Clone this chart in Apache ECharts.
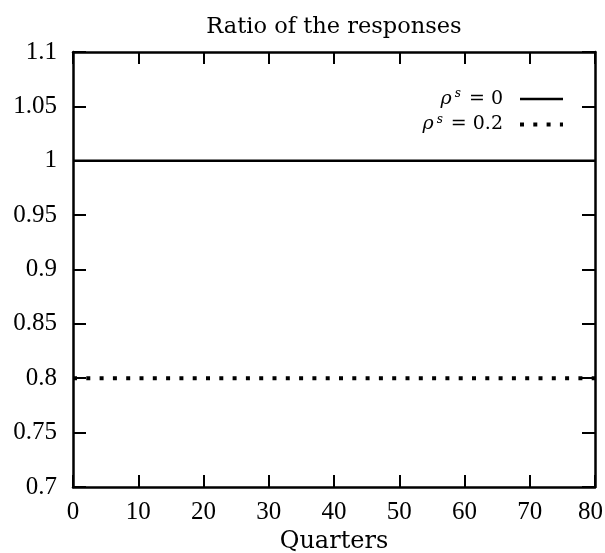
<!DOCTYPE html>
<html>
<head>
<meta charset="utf-8">
<script src="https://cdn.jsdelivr.net/npm/echarts@6/dist/echarts.min.js"></script>
<style>
  html, body { margin: 0; padding: 0; background: #fff; }
  #chart { width: 605px; height: 553px; }
</style>
</head>
<body>
<div id="chart"></div>
<script>
// values
const quarters = [0, 80]
const ratioRho0 = [1, 1]
const ratioRho02 = [0.8, 0.8]
const seriesNames = ['rho0', 'rho02']
const legendLabels = {
  rho0: '{g|ρ}{s|s} = 0',
  rho02: '{g|ρ}{s|s} = 0.2',
}

const textFont = 'DejaVu Serif'
const numFont = 'Liberation Serif'
const chart = echarts.init(document.getElementById('chart'))

const axisLine = { show: true, onZero: false, lineStyle: { color: '#000', width: 2.5 } }
const tick = (len) => ({ inside: true, length: len, lineStyle: { color: '#000', width: 2 } })
const dotted = { color: '#000', width: 4, type: [4, 9.3], cap: 'butt' }

const option = {
  animation: false,
  textStyle: { fontFamily: textFont, color: '#000' },
  legend: {
    orient: 'vertical',
    right: 35,
    top: 83,
    align: 'right',
    itemWidth: 43,
    itemHeight: 14,
    itemGap: 5,
    data: [
      { name: seriesNames[0], lineStyle: { color: '#000', width: 2.5, type: 'solid' } },
      { name: seriesNames[1], lineStyle: dotted },
    ],
    formatter: (name) => legendLabels[name],
    itemStyle: { opacity: 0 },
    textStyle: {
      fontFamily: textFont,
      fontSize: 19,
      color: '#000',
      padding: [0, 12, 0, 0],
      rich: {
        g: { fontFamily: textFont, fontStyle: 'italic', fontSize: 19, color: '#000' },
        s: { fontFamily: textFont, fontStyle: 'italic', fontSize: 12, color: '#000', padding: [0, 2, 10, 3] },
      },
    },
  },
  grid: { left: 73, right: 10, top: 52, bottom: 66, containLabel: false, outerBoundsMode: 'none' },
  xAxis: [
    {
      type: 'value',
      min: 0,
      max: 80,
      interval: 10,
      name: 'Quarters',
      nameLocation: 'middle',
      nameGap: 43,
      nameTextStyle: { fontFamily: textFont, fontSize: 24, color: '#000' },
      axisLine,
      axisTick: tick(12),
      axisLabel: {
        fontFamily: numFont,
        fontSize: 25,
        color: '#000',
        margin: 13,
        // keep the last label inside the frame
        formatter: (v) => (v === 80 ? '{r|' + v + '}' : String(v)),
        rich: { r: { fontFamily: numFont, fontSize: 25, color: '#000', padding: [0, 9, 0, 0] } },
      },
      splitLine: { show: false },
    },
    {
      // top border, also carries the title centred over the plot
      type: 'value',
      position: 'top',
      min: 0,
      max: 80,
      interval: 10,
      name: 'Ratio of the responses',
      nameLocation: 'middle',
      nameGap: 13,
      nameTextStyle: { fontFamily: textFont, fontSize: 22.5, color: '#000' },
      axisLine,
      axisTick: tick(12),
      axisLabel: { show: false },
      splitLine: { show: false },
    },
  ],
  yAxis: [
    {
      type: 'value',
      min: 0.7,
      max: 1.1,
      interval: 0.05,
      axisLine,
      axisTick: tick(13),
      axisLabel: {
        fontFamily: numFont,
        fontSize: 25,
        color: '#000',
        margin: 16,
        formatter: (v) => String(+v.toFixed(2)),
      },
      splitLine: { show: false },
    },
    {
      type: 'value',
      position: 'right',
      min: 0.7,
      max: 1.1,
      interval: 0.05,
      axisLine,
      axisTick: tick(13),
      axisLabel: { show: false },
      splitLine: { show: false },
    },
  ],
  series: [
    {
      name: 'rho0',
      type: 'line',
      symbol: 'none',
      data: quarters.map((q, i) => [q, ratioRho0[i]]),
      lineStyle: { color: '#000', width: 2.5, type: 'solid' },
      itemStyle: { color: '#000' },
    },
    {
      name: 'rho02',
      type: 'line',
      symbol: 'none',
      data: quarters.map((q, i) => [q, ratioRho02[i]]),
      lineStyle: dotted,
      itemStyle: { color: '#000' },
    },
  ],
}

chart.setOption(option)
</script>
</body>
</html>
